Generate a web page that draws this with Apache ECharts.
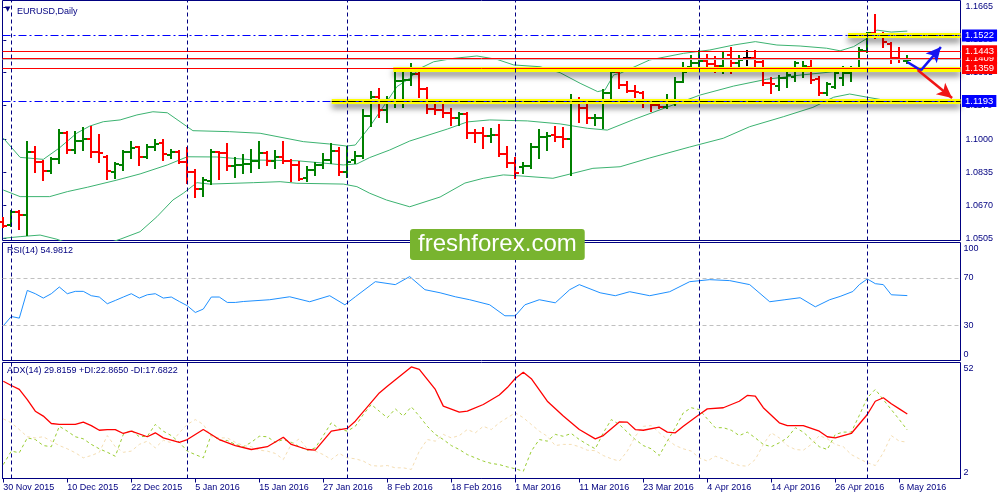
<!DOCTYPE html>
<html><head><meta charset="utf-8">
<script src="https://cdn.jsdelivr.net/npm/echarts@6/dist/echarts.min.js"></script>
<style>html,body{margin:0;padding:0;background:#fff}#c{width:1000px;height:500px}</style>
</head><body><div id="c"></div>
<script>
// ---------- data ----------
const tickLabels = ['30 Nov 2015','10 Dec 2015','22 Dec 2015','5 Jan 2016','15 Jan 2016','27 Jan 2016','8 Feb 2016','18 Feb 2016','1 Mar 2016','11 Mar 2016','23 Mar 2016','4 Apr 2016','14 Apr 2016','26 Apr 2016','6 May 2016'];
const tickEvery = 8;
const monthStarts = [1,23,43,64,87,108];

const open = [1.0586,1.0570,1.0636,1.0621,1.0937,1.0885,1.0842,1.0900,1.1032,1.0947,
1.0991,1.1001,1.0935,1.0913,1.0837,1.0872,1.0935,1.0962,1.0912,1.0962,
1.0981,1.0922,1.0938,1.0887,1.0838,1.0750,1.0791,1.0935,1.0930,1.0867,
1.0872,1.0877,1.0893,1.0930,1.0893,1.0910,1.0893,1.0872,1.0805,1.0847,
1.0872,1.0897,1.0942,1.0838,1.0897,1.0918,1.1118,1.1213,1.1148,1.1198,
1.1293,1.1298,1.1329,1.1253,1.1151,1.1148,1.1131,1.1106,1.1126,1.1034,
1.1031,1.1017,1.1022,1.0927,1.0880,1.0862,1.0867,1.0964,1.1011,1.1022,
1.1011,1.1001,1.1184,1.1156,1.1106,1.1110,1.1233,1.1339,1.1273,1.1245,
1.1233,1.1183,1.1173,1.1163,1.1198,1.1290,1.1362,1.1385,1.1394,1.1379,
1.1369,1.1424,1.1384,1.1407,1.1409,1.1389,1.1283,1.1268,1.1308,1.1315,
1.1354,1.1365,1.1303,1.1233,1.1265,1.1308,1.1335,1.1354,1.1445,1.1534,
1.1524,1.1479,1.1409,1.1392];
const high = [1.0606,1.0641,1.0641,1.0989,1.0964,1.0892,1.0905,1.1047,1.1036,1.1036,
1.1056,1.1064,1.1022,1.0917,1.0880,1.0942,1.0989,1.0964,1.0972,1.0997,
1.0997,1.0947,1.0942,1.0956,1.0847,1.0805,1.0947,1.0938,1.0977,1.0905,
1.0922,1.0947,1.0989,1.0935,1.0943,1.0989,1.0897,1.0888,1.0860,1.0880,
1.0927,1.0977,1.0956,1.0962,1.0938,1.1148,1.1238,1.1253,1.1213,1.1339,
1.1334,1.1379,1.1335,1.1260,1.1198,1.1183,1.1153,1.1133,1.1133,1.1047,
1.1057,1.1052,1.1073,1.0962,1.0907,1.0882,1.0977,1.1047,1.1032,1.1062,
1.1057,1.1223,1.1208,1.1188,1.1123,1.1248,1.1344,1.1344,1.1288,1.1268,
1.1238,1.1198,1.1183,1.1223,1.1308,1.1384,1.1419,1.1444,1.1424,1.1414,
1.1439,1.1459,1.1419,1.1444,1.1444,1.1392,1.1308,1.1318,1.1339,1.1389,
1.1389,1.1404,1.1313,1.1283,1.1344,1.1364,1.1364,1.1459,1.1534,1.1625,
1.1534,1.1484,1.1459,1.1419];
const low = [1.0560,1.0565,1.0550,1.0520,1.0838,1.0796,1.0833,1.0880,1.0930,1.0930,
1.0947,1.0910,1.0888,1.0801,1.0808,1.0847,1.0905,1.0872,1.0905,1.0947,
1.0897,1.0905,1.0883,1.0780,1.0713,1.0716,1.0775,1.0800,1.0847,1.0810,
1.0830,1.0838,1.0855,1.0872,1.0855,1.0883,1.0793,1.0796,1.0793,1.0822,
1.0855,1.0883,1.0822,1.0810,1.0880,1.0905,1.1067,1.1113,1.1088,1.1163,
1.1163,1.1273,1.1213,1.1133,1.1128,1.1113,1.1073,1.1073,1.1007,1.0987,
1.0957,1.0987,1.0917,1.0862,1.0806,1.0832,1.0857,1.0907,1.0947,1.0992,
1.0962,1.0822,1.1088,1.1083,1.1073,1.1057,1.1208,1.1258,1.1238,1.1213,
1.1163,1.1143,1.1158,1.1158,1.1173,1.1288,1.1359,1.1359,1.1349,1.1339,
1.1334,1.1334,1.1359,1.1374,1.1349,1.1273,1.1233,1.1248,1.1263,1.1293,
1.1313,1.1283,1.1223,1.1223,1.1258,1.1273,1.1293,1.1349,1.1439,1.1509,
1.1464,1.1384,1.1389,1.1384];
const close = [1.0565,1.0636,1.0621,1.0937,1.0885,1.0842,1.0900,1.1034,1.0947,1.0991,
1.1001,1.0935,1.0930,1.0842,1.0875,1.0935,1.0959,1.0913,1.0962,1.0976,
1.0925,1.0937,1.0888,1.0838,1.0750,1.0796,1.0938,1.0930,1.0867,1.0872,
1.0877,1.0893,1.0930,1.0893,1.0910,1.0893,1.0872,1.0800,1.0847,1.0872,
1.0897,1.0942,1.0838,1.0888,1.0918,1.1118,1.1213,1.1148,1.1198,1.1293,
1.1298,1.1329,1.1253,1.1151,1.1148,1.1131,1.1106,1.1126,1.1034,1.1031,
1.1017,1.1022,1.0927,1.0880,1.0833,1.0867,1.0964,1.1011,1.1017,1.1011,
1.1001,1.1184,1.1156,1.1106,1.1110,1.1233,1.1339,1.1273,1.1245,1.1238,
1.1183,1.1173,1.1163,1.1198,1.1290,1.1340,1.1385,1.1394,1.1379,1.1369,
1.1404,1.1384,1.1399,1.1407,1.1390,1.1283,1.1278,1.1308,1.1324,1.1384,
1.1369,1.1298,1.1233,1.1278,1.1334,1.1335,1.1349,1.1449,1.1533,1.1519,
1.1491,1.1409,1.1404,1.1401];

// Bollinger bands: [bar index, price]
const bbUpper = [[0,1.1007],[2.1,1.0910],[5,1.0900],[7,1.0957],[9.2,1.1032],[10.8,1.1067],[12.5,1.1089],[14.6,1.1098],[16.7,1.1123],[18.7,1.1139],[20.5,1.1134],[22.1,1.1089],[23.7,1.1044],[28.3,1.1039],[32.1,1.1031],[37.5,1.0989],[40.8,1.0977],[42.9,1.0967],[44,1.0972],[45.8,1.1064],[47.5,1.1164],[49.2,1.1265],[50.8,1.1307],[52.1,1.1357],[53.8,1.1390],[56.3,1.1407],[59.2,1.1419],[61.7,1.1402],[63.8,1.1374],[67.1,1.1365],[69.6,1.1335],[72.1,1.1282],[74.3,1.1240],[75.2,1.1248],[76.3,1.1324],[77.1,1.1332],[80.8,1.1399],[85,1.1432],[88.3,1.1449],[91.3,1.1474],[94,1.1491],[96.7,1.1474],[99.6,1.1469],[102.9,1.1458],[104.6,1.1445],[106.3,1.1466],[108,1.1508],[109.2,1.1549],[111,1.1539],[113,1.1544]];
const bbMiddle = [[0,1.0746],[2.1,1.0713],[5.8,1.0713],[8,1.0738],[10.5,1.0760],[14.2,1.0796],[17.1,1.0827],[20.5,1.0872],[23,1.0913],[26.7,1.0912],[31.3,1.0897],[36.7,1.0893],[39.6,1.0883],[42.5,1.0872],[44.2,1.0877],[45.8,1.0909],[48.3,1.0947],[50.8,1.0992],[55.5,1.1052],[58,1.1088],[60.8,1.1098],[65.5,1.1093],[69.6,1.1078],[73,1.1056],[75.5,1.1047],[78.8,1.1100],[82.9,1.1161],[87.1,1.1223],[91.3,1.1268],[95.4,1.1302],[99.6,1.1323],[103.8,1.1340],[106.3,1.1349],[110.4,1.1357],[113,1.1361]];
const bbLower = [[0,1.0504],[2.1,1.0512],[4.6,1.0520],[6.7,1.0499],[9,1.0465],[12,1.0465],[14.6,1.0499],[17.1,1.0537],[19.2,1.0612],[21.2,1.0696],[22.5,1.0730],[24.2,1.0783],[25.8,1.0776],[31.3,1.0783],[34.6,1.0788],[36.7,1.0780],[42.5,1.0776],[44.2,1.0763],[45.8,1.0730],[47.9,1.0696],[50.8,1.0662],[54.6,1.0711],[57.7,1.0781],[60,1.0805],[62.5,1.0822],[64.6,1.0817],[68.7,1.0805],[73.7,1.0855],[77.1,1.0863],[80.8,1.0907],[85.8,1.0962],[90,1.1006],[93.3,1.1064],[97.5,1.1114],[101.2,1.1161],[103.8,1.1212],[105.8,1.1228],[108,1.1212],[110,1.1198],[113,1.1188]];

const rsi = [[0,29.4],[1,37.3],[2,35.9],[3,59.4],[4,56.6],[5,52.9],[6,56.6],[7,62.3],[8,56.6],[9,58.6],[10,58.6],[11,54.9],[12,53.8],[13,48.1],[14,50.9],[15,53.8],[16,56.6],[17,52.9],[18,55.7],[19,56.6],[20,52.9],[21,53.8],[22,50.0],[23,46.4],[24,40.7],[25,43.6],[26,53.8],[27,53.8],[28,49.2],[29,49.2],[30,50.0],[33.3,51.5],[35.8,54.0],[38.3,49.8],[40.8,54.9],[42.7,47.2],[44,54.0],[46.5,66.8],[49,64.3],[50.8,71.1],[52.7,60.0],[54.6,57.4],[56.5,54.0],[58.3,51.5],[60.8,47.2],[62.7,37.9],[64,37.9],[65.2,47.2],[67,51.5],[69,48.9],[70.8,60.0],[72,64.3],[74.6,57.4],[76.5,54.9],[78.3,58.3],[80.8,54.9],[83.3,58.3],[85.8,66.8],[88.3,68.5],[90.8,67.7],[93.3,64.3],[95.8,49.8],[97.7,51.5],[99.6,53.2],[101.5,45.5],[103.3,51.5],[104.6,54.3],[106.2,58.5],[107,64.3],[108,69.1],[109,65.1],[110,64.3],[111,55.7],[113,55.0]];

const adx = [[0,43.9],[1,42.1],[2,40.4],[3,36.0],[4,31.0],[5,28.9],[6,25.7],[7,25.3],[9,25.3],[10,26.3],[11,24.8],[12,22.8],[13,23.1],[14,23.1],[15,21.4],[16,22.4],[18,20.0],[19,21.7],[20,19.5],[22,17.6],[23,18.8],[25,23.1],[27,18.8],[29,16.2],[31,14.5],[33,15.7],[35,19.8],[36,16.7],[38,14.5],[39,14.2],[41,22.4],[43,23.6],[44,26.7],[47,38.9],[48,41.8],[51,50.1],[52,49.0],[54,40.4],[55,33.2],[57,30.6],[58,31.0],[60,33.9],[62,38.0],[63,41.2],[64,45.1],[65,47.8],[66,45.0],[68,35.3],[70,28.9],[72,23.1],[74,19.1],[75,20.5],[77,26.4],[78,26.3],[79,23.1],[80,22.8],[82,24.1],[83,22.0],[84,21.7],[85,24.5],[87,29.6],[88,32.0],[90,32.5],[92,35.3],[93,37.8],[94,37.5],[95,32.5],[97,26.0],[98,24.8],[100,24.8],[102,22.4],[103,20.0],[104,19.5],[106,21.4],[108,29.6],[109,35.3],[110,36.8],[111,34.2],[112,32.0],[113,29.8]];
const plusDI = [[0,8.0],[1,13.8],[2,13.1],[3,19.5],[4,18.8],[5,16.2],[6,15.7],[7,24.5],[8,22.4],[9,20.0],[10,19.1],[11,16.7],[12,14.8],[13,13.3],[14,11.6],[15,21.0],[16,22.8],[17,20.0],[18,20.2],[19,25.3],[20,22.4],[21,20.5],[22,17.6],[23,13.8],[24,12.3],[25,10.9],[26,21.0],[27,18.5],[28,18.4],[29,16.7],[30,15.7],[31,17.6],[32,20.2],[33,20.0],[34,17.6],[35,18.8],[36,17.6],[37,15.7],[38,14.2],[39,15.2],[40,20.5],[41,26.0],[42,23.4],[43,22.4],[44,24.5],[45,29.6],[46,33.9],[47,31.0],[48,28.2],[49,32.0],[50,28.9],[51,32.9],[52,28.9],[53,24.5],[54,21.0],[55,18.8],[56,16.2],[57,14.5],[58,12.3],[59,10.9],[60,9.5],[61,8.5],[62,8.0],[63,7.0],[64,6.2],[65,5.1],[66,13.8],[67,18.8],[68,18.1],[69,21.0],[70,20.2],[71,21.4],[72,18.8],[73,16.7],[74,14.8],[75,21.7],[76,27.4],[77,25.3],[78,22.0],[79,18.8],[80,16.2],[81,14.8],[82,11.9],[83,18.1],[84,23.9],[85,30.3],[86,32.5],[87,31.7],[88,27.7],[89,23.9],[90,23.9],[91,22.8],[92,20.5],[93,22.0],[94,19.5],[95,16.7],[96,15.7],[97,17.4],[98,19.5],[99,23.9],[100,22.0],[101,18.8],[102,15.7],[103,14.5],[104,21.0],[105,22.0],[106,22.0],[107,29.2],[108,36.8],[109,40.4],[110,36.0],[111,31.7],[112,27.4],[113,22.9]];
const minusDI = [[0,27.7],[1,26.0],[2,23.1],[3,20.0],[4,19.5],[5,20.0],[6,18.1],[7,16.2],[8,14.8],[9,13.1],[10,10.9],[11,11.9],[12,13.3],[13,20.5],[14,15.7],[15,13.3],[16,13.8],[17,16.7],[18,18.1],[19,15.2],[20,18.5],[21,17.4],[22,21.7],[23,25.3],[24,27.4],[25,25.3],[26,20.0],[27,19.5],[28,19.5],[29,17.6],[30,16.2],[31,15.7],[32,14.2],[33,13.8],[34,12.8],[35,10.2],[36,16.7],[37,19.1],[38,14.8],[39,13.8],[40,12.3],[41,10.2],[42,12.8],[43,10.9],[44,10.5],[45,9.5],[46,7.6],[47,7.3],[48,7.6],[49,6.6],[50,6.6],[51,5.9],[52,13.8],[53,18.8],[54,18.1],[55,21.0],[56,19.5],[57,20.5],[58,23.1],[59,21.7],[60,24.5],[61,23.1],[62,26.0],[63,28.2],[64,30.3],[65,28.2],[66,25.3],[67,22.4],[68,20.2],[69,16.2],[70,16.7],[71,16.7],[72,15.7],[73,14.2],[74,14.0],[75,11.9],[76,10.5],[77,9.5],[78,13.8],[79,20.2],[80,24.5],[81,24.8],[82,21.7],[83,18.8],[84,16.2],[85,14.8],[86,13.8],[87,10.9],[88,9.5],[89,11.6],[90,10.5],[91,8.8],[92,7.6],[93,7.3],[94,10.2],[95,16.7],[96,21.7],[97,19.5],[98,16.2],[99,14.5],[100,14.2],[101,16.7],[102,20.5],[103,19.1],[104,16.7],[105,15.7],[106,12.3],[107,10.5],[108,8.8],[109,7.6],[110,13.1],[111,20.5],[112,18.1],[113,17.7]];

const priceTicks = [1.0505,1.0670,1.0835,1.1000,1.1170,1.1335,1.1500,1.1665];
const rsiTicks = [0,30,70,100];
const rsiLevels = [30,70];
const adxTicks = [2,52];
const blueLevels = [1.1522,1.1193];
const redLevels = [1.1409,1.1443,1.1359]; // drawing order: later labels cover earlier ones
const bidLevel = 1.1401;
// highlighted trend lines: [price, first bar index]
const zones = [[1.1193,41.05],[1.1352,48.75],[1.1524,105.6]];
const dashedOnZone = [[1.1193,41.05],[1.1522,105.6]];
const blueArrow = [[113.0,1.1389],[114.7,1.1347],[117.2,1.1464]];
const redArrow = [[114.3,1.1349],[118.6,1.1208]];

// ---------- chart ----------
const FONT = 'Liberation Sans';
const NAVY = '#000080';
const XMIN = -0.1, XMAX = 119.65;
const chart = echarts.init(document.getElementById('c'), null, {renderer:'canvas'});

const ohlc = open.map((o,i)=>[i,o,high[i],low[i],close[i]]);
const xTickVals = tickLabels.map((_,k)=>k*tickEvery);

function renderBar(params, api){
  const i = api.value(0), o = api.value(1), h = api.value(2), l = api.value(3), c = api.value(4);
  const pH = api.coord([i,h]), pL = api.coord([i,l]), pO = api.coord([i,o]), pC = api.coord([i,c]);
  const col = c > o ? '#008000' : (c < o ? '#FF0000' : '#000000');
  const x = Math.round(pH[0]);
  const yO = Math.round(pO[1]), yC = Math.round(pC[1]);
  const st = {stroke: col, lineWidth: 2, fill: null};
  return {type:'group', children:[
    {type:'line', shape:{x1:x, y1:Math.round(pH[1])-1, x2:x, y2:Math.round(pL[1])+1}, style:st},
    {type:'line', shape:{x1:x-4, y1:yO, x2:x, y2:yO}, style:st},
    {type:'line', shape:{x1:x, y1:yC, x2:x+4, y2:yC}, style:st}
  ]};
}

const sepLines = monthStarts.map(v=>({xAxis:v, lineStyle:{color:NAVY, type:[4,3], width:1}, label:{show:false}}));
const boxLabel = (bg)=>({show:true, position:'end', distance:1.5, color:'#fff', backgroundColor:bg, padding:[1,3,1,3], fontSize:9.5, fontFamily:FONT, formatter:p=>Number(p.value).toFixed(4)});

const mainMarks = [];
zones.forEach(z=>{
  mainMarks.push([{coord:[z[1],z[0]], lineStyle:{color:'#FFFF00', width:5, type:'solid', shadowColor:'rgba(0,0,0,0.55)', shadowBlur:6, shadowOffsetY:4}, label:{show:false}},{coord:[XMAX,z[0]]}]);
});
mainMarks.push({yAxis:bidLevel, lineStyle:{color:'#C0C0C0', width:1, type:'solid'}, label:{show:false}});
blueLevels.forEach(v=>mainMarks.push({yAxis:v, lineStyle:{color:'#0000FF', width:1, type:[8,3,2,3]}, label:boxLabel('#0000FF')}));
redLevels.forEach(v=>mainMarks.push({yAxis:v, lineStyle:{color:'#FF0000', width:1, type:'solid'}, label:boxLabel('#FF0000')}));
dashedOnZone.forEach(z=>{
  mainMarks.push([{coord:[z[1],z[0]], lineStyle:{color:'#000000', width:1.2, type:[8,3,2,3]}, label:{show:false}},{coord:[XMAX,z[0]]}]);
});

const arrowMarks = [
  [{coord:blueArrow[0], symbol:'none', lineStyle:{color:'#1515F0', width:2.5, type:'solid', curveness:0.25}, label:{show:false}},
   {coord:blueArrow[1], symbol:'none'}],
  [{coord:blueArrow[1], symbol:'none', lineStyle:{color:'#1515F0', width:2.5, type:'solid', curveness:0.15}, label:{show:false}},
   {coord:blueArrow[2], symbol:'arrow', symbolSize:[11,15]}],
  [{coord:redArrow[0], symbol:'none', lineStyle:{color:'#F01515', width:2.5, type:'solid'}, label:{show:false}},
   {coord:redArrow[1], symbol:'arrow', symbolSize:[11,15]}]
];

const lbl = (extra)=>Object.assign({color:NAVY, fontSize:9, fontFamily:FONT}, extra||{});

const option = {
  animation:false,
  backgroundColor:'#ffffff',
  textStyle:{fontFamily:FONT},
  title:[
    {text:'\u25BC', left:5, top:6, padding:0, textStyle:{fontSize:7, color:NAVY, fontWeight:'normal', fontFamily:'DejaVu Sans'}},
    {text:'EURUSD,Daily', left:17, top:7, padding:0, textStyle:lbl({fontWeight:'normal'})},
    {text:'RSI(14) 54.9812', left:7, top:246.5, padding:0, textStyle:lbl({fontWeight:'normal'})},
    {text:'ADX(14) 29.8159 +DI:22.8650 -DI:17.6822', left:7, top:366.5, padding:0, textStyle:lbl({fontWeight:'normal'})},
    {text:'freshforex.com', left:410, top:229, padding:[3,8,4,8], backgroundColor:'#78B42F', borderRadius:3, z:20,
     textStyle:{fontSize:24, color:'#ffffff', fontWeight:'normal', fontFamily:FONT}}
  ],
  grid:[
    {left:2.5, top:0.5, width:958, height:240, show:true, borderColor:NAVY, borderWidth:1, backgroundColor:'#fff'},
    {left:2.5, top:242.5, width:958, height:118, show:true, borderColor:NAVY, borderWidth:1},
    {left:2.5, top:362.5, width:958, height:116, show:true, borderColor:NAVY, borderWidth:1}
  ],
  xAxis:[
    {type:'value', gridIndex:0, min:XMIN, max:XMAX, show:false},
    {type:'value', gridIndex:1, min:XMIN, max:XMAX, show:false},
    {type:'value', gridIndex:2, min:XMIN, max:XMAX, splitLine:{show:false},
     axisLine:{show:true, lineStyle:{color:NAVY, width:1}},
     axisTick:{show:true, customValues:xTickVals, length:4, lineStyle:{color:NAVY}},
     axisLabel:{customValues:xTickVals, formatter:v=>tickLabels[Math.round(v/tickEvery)]||'', align:'left', margin:5, color:NAVY, fontSize:9, fontFamily:FONT}}
  ],
  yAxis:[
    {type:'value', gridIndex:0, position:'right', min:1.04927, max:1.16975, splitLine:{show:false},
     axisLine:{show:false},
     axisTick:{show:true, customValues:priceTicks, length:3, lineStyle:{color:NAVY}},
     axisLabel:{customValues:priceTicks, formatter:v=>v.toFixed(4), margin:5, color:NAVY, fontSize:9, fontFamily:FONT}},
    {type:'value', gridIndex:1, position:'right', min:0, max:100, splitLine:{show:false}, axisLine:{show:false}, axisTick:{show:false},
     axisLabel:{customValues:rsiTicks, margin:3, color:NAVY, fontSize:9, fontFamily:FONT,
       formatter:v=> v===100 ? '{t|100}' : (v===0 ? '{b|0}' : String(v)),
       rich:{t:{padding:[12,0,0,0], color:NAVY, fontSize:9, fontFamily:FONT}, b:{padding:[0,0,12,0], color:NAVY, fontSize:9, fontFamily:FONT}}}},
    {type:'value', gridIndex:2, position:'right', min:2, max:52, splitLine:{show:false}, axisLine:{show:false}, axisTick:{show:false},
     axisLabel:{customValues:adxTicks, margin:3, color:NAVY, fontSize:9, fontFamily:FONT,
       formatter:v=> v===52 ? '{t|52}' : '{b|2}',
       rich:{t:{padding:[13,0,0,0], color:NAVY, fontSize:9, fontFamily:FONT}, b:{padding:[0,0,11,0], color:NAVY, fontSize:9, fontFamily:FONT}}}}
  ],
  series:[
    {type:'line', name:'marks', xAxisIndex:0, yAxisIndex:0, data:[], z:2, silent:true,
     markLine:{silent:true, symbol:'none', precision:4, animation:false, data:mainMarks}},
    {type:'line', name:'seps', xAxisIndex:0, yAxisIndex:0, data:[], z:2, silent:true,
     markLine:{silent:true, symbol:'none', animation:false, data:sepLines}},
    {type:'line', name:'bbU', xAxisIndex:0, yAxisIndex:0, data:bbUpper, showSymbol:false, z:3, lineStyle:{color:'#3CB371', width:1}},
    {type:'line', name:'bbM', xAxisIndex:0, yAxisIndex:0, data:bbMiddle, showSymbol:false, z:3, lineStyle:{color:'#3CB371', width:1}},
    {type:'line', name:'bbL', xAxisIndex:0, yAxisIndex:0, data:bbLower, showSymbol:false, z:3, lineStyle:{color:'#3CB371', width:1}},
    {type:'custom', name:'bars', xAxisIndex:0, yAxisIndex:0, data:ohlc, z:4, renderItem:renderBar, encode:{x:0, y:[1,2,3,4]}},
    {type:'line', name:'arrows', xAxisIndex:0, yAxisIndex:0, data:[], z:6, silent:true,
     markLine:{silent:true, animation:false, precision:4, data:arrowMarks}},
    {type:'line', name:'rsi', xAxisIndex:1, yAxisIndex:1, data:rsi, showSymbol:false, z:3, lineStyle:{color:'#1E90FF', width:1},
     markLine:{silent:true, symbol:'none', animation:false,
       data: rsiLevels.map(v=>({yAxis:v, lineStyle:{color:'#C0C0C0', type:[4,3], width:1}, label:{show:false}})).concat(sepLines)}},
    {type:'line', name:'+DI', xAxisIndex:2, yAxisIndex:2, data:plusDI, showSymbol:false, z:3, lineStyle:{color:'#9ACD32', width:1, type:[3,3]}},
    {type:'line', name:'-DI', xAxisIndex:2, yAxisIndex:2, data:minusDI, showSymbol:false, z:3, lineStyle:{color:'#F5DEB3', width:1, type:[3,3]}},
    {type:'line', name:'ADX', xAxisIndex:2, yAxisIndex:2, data:adx, showSymbol:false, z:4, lineStyle:{color:'#FF0000', width:1.3},
     markLine:{silent:true, symbol:'none', animation:false, data:sepLines}}
  ]
};
chart.setOption(option);
</script>
</body></html>
